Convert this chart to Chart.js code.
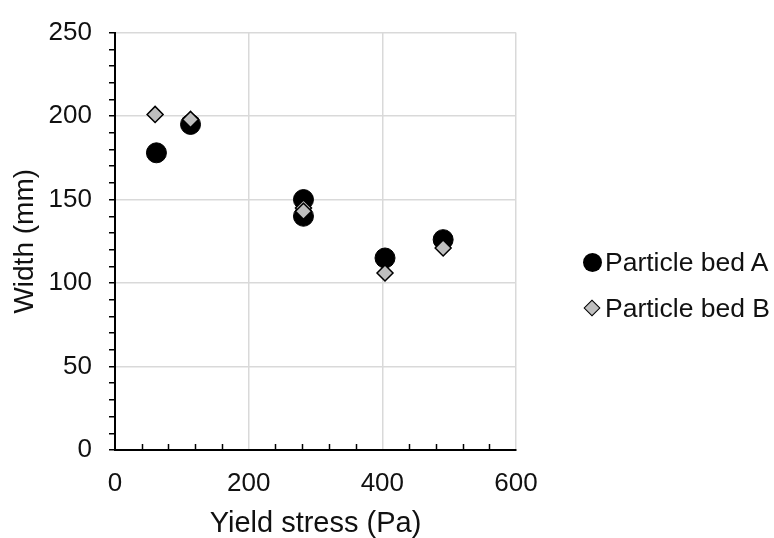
<!DOCTYPE html>
<html>
<head>
<meta charset="utf-8">
<script src="https://cdn.jsdelivr.net/npm/chart.js@4.4.1/dist/chart.umd.min.js"></script>
<style>
  html, body { margin: 0; padding: 0; background: #fff; }
  #wrap { position: relative; width: 774px; height: 538px; }
  canvas { position: absolute; left: 0; top: 0; }
  .leg { position: absolute; font-family: "Liberation Sans", Arial, sans-serif; font-size: 26.5px; color: #111; white-space: nowrap; line-height: 1; }
  .mk { position: absolute; box-sizing: border-box; }
</style>
</head>
<body>
<div id="wrap">
  <canvas id="c" width="774" height="538"></canvas>
  <div class="mk" style="left:583px;top:253px;width:19px;height:19px;border-radius:50%;background:#000;"></div>
  <div class="leg" style="left:605px;top:249px;">Particle bed A</div>
  <div class="mk" style="left:586px;top:302px;width:12px;height:12px;background:#bfbfbf;border:1.5px solid #000;transform:rotate(45deg);"></div>
  <div class="leg" style="left:605px;top:295px;">Particle bed B</div>
</div>
<script>
// Yield stress (Pa) and measured width (mm) for the two particle beds
const yieldStressA = [62, 113, 282, 282, 404, 491];
const widthA       = [178, 195, 150, 140, 115, 126];
const yieldStressB = [60, 113, 282, 282, 404, 491];
const widthB       = [201, 198, 145, 143, 106, 121];

const xMin = 0, xMax = 600, xMinorStep = 40, xMajorStep = 200;
const yMin = 0, yMax = 250, yMinorStep = 10, yMajorStep = 50;

const toPoints = (xs, ys) => xs.map((x, i) => ({ x: x, y: ys[i] }));

const FONT = "'Liberation Sans', Arial, sans-serif";
const TEXT = '#111';
const GRID = '#d9d9d9';

// Short inward tick marks on the x axis at the minor steps
const xInwardTicks = {
  id: 'xInwardTicks',
  afterDatasetsDraw(chart) {
    const xs = chart.scales.x, area = chart.chartArea, ctx = chart.ctx;
    ctx.save();
    ctx.strokeStyle = '#000';
    ctx.lineWidth = 1.5;
    for (let v = xMin + xMinorStep; v < xMax; v += xMinorStep) {
      if (v % xMajorStep === 0) continue;
      const px = Math.round(xs.getPixelForValue(v)) + 0.5;
      ctx.beginPath();
      ctx.moveTo(px, area.bottom);
      ctx.lineTo(px, area.bottom - 6);
      ctx.stroke();
    }
    ctx.restore();
  }
};

new Chart(document.getElementById('c'), {
  type: 'scatter',
  data: {
    datasets: [
      {
        label: 'Particle bed A',
        data: toPoints(yieldStressA, widthA),
        order: 1,
        pointStyle: 'circle',
        pointRadius: 10,
        pointHoverRadius: 10,
        backgroundColor: '#000',
        borderColor: '#000',
        borderWidth: 1
      },
      {
        label: 'Particle bed B',
        data: toPoints(yieldStressB, widthB),
        order: 0,
        pointStyle: 'rectRot',
        pointRadius: 8,
        pointHoverRadius: 8,
        backgroundColor: '#bfbfbf',
        borderColor: '#000',
        borderWidth: 1.5
      }
    ]
  },
  options: {
    responsive: false,
    animation: false,
    events: [],
    layout: { padding: { top: 25, right: 258, bottom: 0, left: 0 } },
    plugins: { legend: { display: false }, tooltip: { enabled: false } },
    scales: {
      x: {
        type: 'linear',
        min: xMin, max: xMax,
        afterFit(s) { s.height = 88; },
        ticks: {
          stepSize: xMinorStep,
          autoSkip: false,
          maxRotation: 0,
          padding: 18,
          color: TEXT,
          font: { family: FONT, size: 26 },
          callback: v => (v % xMajorStep === 0 ? v : '')
        },
        grid: {
          drawTicks: false,
          lineWidth: 1.5,
          color: c => (c.tick && c.tick.value % xMajorStep === 0 ? GRID : 'rgba(0,0,0,0)')
        },
        border: { display: true, color: '#000', width: 2 },
        title: {
          display: true,
          text: 'Yield stress (Pa)',
          color: TEXT,
          font: { family: FONT, size: 29, lineHeight: 1 },
          padding: { top: 0, bottom: 0 }
        }
      },
      y: {
        type: 'linear',
        min: yMin, max: yMax,
        afterFit(s) { s.width = 115; },
        ticks: {
          stepSize: yMinorStep,
          autoSkip: false,
          padding: 17,
          color: TEXT,
          font: { family: FONT, size: 26 },
          callback: v => (v % yMajorStep === 0 ? v : '')
        },
        grid: {
          drawTicks: true,
          tickLength: 6,
          tickWidth: 1.5,
          tickColor: '#000',
          lineWidth: 1.5,
          color: c => (c.tick && c.tick.value % yMajorStep === 0 ? GRID : 'rgba(0,0,0,0)')
        },
        border: { display: true, color: '#000', width: 2 },
        title: {
          display: true,
          text: 'Width (mm)',
          color: TEXT,
          font: { family: FONT, size: 28, lineHeight: 1 },
          padding: { top: 11, bottom: 0 }
        }
      }
    }
  },
  plugins: [xInwardTicks]
});
</script>
</body>
</html>
